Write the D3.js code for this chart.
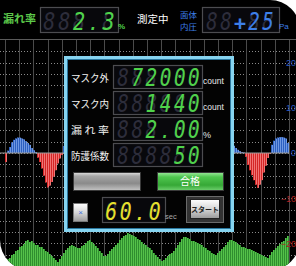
<!DOCTYPE html>
<html lang="ja">
<head>
<meta charset="utf-8">
<title>マスク漏れ率</title>
<script src="https://cdnjs.cloudflare.com/ajax/libs/d3/7.8.5/d3.min.js"></script>
<style>
body { margin: 0; background: #fff; }
svg { display: block; }
.jp { font-family: "Noto Sans CJK JP", sans-serif; }
.seg { font-family: "DejaVu Sans Mono", monospace; font-style: italic; }
.unit { font-family: "Liberation Sans", Arial, sans-serif; }
</style>
</head>
<body>
<svg width="296" height="266"></svg>
<script>
// ---- data ----
var axisTicks = [20, 10, 0, -10, -20];

// leak signal, samples 0..30 (left of the panel)
var sigLeft = [-2.0, 0.5, 1.3, 2.3, 2.9, 3.2, 3.4, 3.4, 3.2, 3.0, 2.6, 2.2, 1.8, 1.1, 0.6, 0.2,
  -1.0, -2.0, -3.4, -5.0, -6.5, -7.6, -7.2, -6.4, -5.2, -3.8, -2.3, -1.2, -0.4, 1.5, 2.8];
// leak signal, samples 113..141 (right of the panel)
var sigRightStart = 113;
var sigRight = [2.2, 1.6, 1.1, 0.7, 0.4, 0.2, 0.1, -0.8, -2.6, -3.8, -4.9, -6.0, -7.0, -7.7,
  -7.0, -6.0, -4.3, -2.8, -1.1, -0.2, 1.8, 2.7, 3.2, 3.4, 3.5, 3.5, 3.4, 3.2, 2.2];

// green flow trace along the bottom, 142 samples
var flow = [4, 7, 8, 11, 12, 15, 16, 19, 20, 22, 25, 26, 24, 25, 23, 21, 21, 19, 19, 17,
  15, 14, 12, 10, 8, 6, 4, 7, 10, 13, 16, 18, 20, 21, 20, 19, 18, 18, 20, 21,
  23, 25, 26, 24, 22, 20, 18, 15, 13, 10, 10, 12, 15, 17, 19, 21, 23, 26, 28, 30,
  31, 33, 32, 31, 30, 29, 27, 26, 24, 22, 21, 19, 18, 16, 13, 11, 9, 7, 5, 6,
  8, 10, 12, 13, 15, 18, 21, 24, 27, 29, 29, 28, 27, 25, 25, 24, 23, 22, 21, 19,
  18, 16, 15, 13, 12, 11, 13, 15, 17, 19, 21, 24, 26, 26, 25, 24, 22, 21, 19, 19,
  18, 17, 17, 16, 15, 14, 13, 12, 11, 10, 9, 8, 11, 14, 16, 18, 20, 22, 24, 25, 28, 30];

var rowLabels = ["マスク外", "マスク内", "漏 れ 率", "防護係数"];
var rowValues = ["72000", "1440", "2.00", "50"];
var rowUnits = ["count", "count", "%", ""];
var headLeak = "2.3";
var headPressure = "+25";
var timerValue = "60.0";

// ---- setup ----
var svg = d3.select("svg");
var defs = svg.append("defs");

var shape = "M0,0 H270 A30,30 0 0 1 300,30 V240 A30,30 0 0 1 270,270 H30 A30,30 0 0 1 0,240 Z";
defs.append("clipPath").attr("id", "body").append("path").attr("d", shape);
svg.append("path").attr("d", shape).attr("fill", "#000");

function grad(id, stops) {
  var g = defs.append("linearGradient").attr("id", id)
    .attr("x1", 0).attr("y1", 0).attr("x2", 0).attr("y2", 1);
  stops.forEach(function(s) {
    g.append("stop").attr("offset", s[0]).attr("stop-color", s[1]);
  });
}
grad("gray", [[0, "#e0e0e0"], [0.2, "#a6a6a6"], [0.6, "#8a8a8a"], [1, "#c4c4c4"]]);
grad("green", [[0, "#9be89b"], [0.25, "#4fc64f"], [0.7, "#36a836"], [1, "#6fd06f"]]);
grad("btn", [[0, "#ffffff"], [0.5, "#d6d6d6"], [1, "#9a9a9a"]]);

var chart = svg.append("g").attr("clip-path", "url(#body)");

// ---- scales ----
var x = d3.scaleBand().domain(d3.range(flow.length)).range([5, 289]);
var xg = d3.scaleLinear().domain([0, 20]).range([5, 289]);
var y = d3.scaleLinear().domain([-25, 25]).range([266, 40]);
var yf = d3.scaleLinear().domain([0, 40]).range([266, 226]);

// grid
chart.append("g").selectAll("line")
  .data(d3.range(-22.5, 25, 2.5))
  .enter().append("line")
  .attr("x1", 0).attr("x2", 296)
  .attr("y1", function(d) { return Math.round(y(d)) + 0.5; })
  .attr("y2", function(d) { return Math.round(y(d)) + 0.5; })
  .attr("stroke", "#8a8a8a").attr("stroke-dasharray", "1,2");
chart.append("line")
  .attr("x1", 0).attr("x2", 296).attr("y1", y(25) - 0.5).attr("y2", y(25) - 0.5)
  .attr("stroke", "#5a5a5a");
chart.append("g").selectAll("line")
  .data(xg.ticks(20))
  .enter().append("line")
  .attr("x1", function(d) { return Math.round(xg(d)) + 0.5; })
  .attr("x2", function(d) { return Math.round(xg(d)) + 0.5; })
  .attr("y1", y(25)).attr("y2", 266)
  .attr("stroke", "#4a4a4a");

// leak signal bars
var sigData = sigLeft.map(function(v, i) { return {i: i, v: v}; })
  .concat(sigRight.map(function(v, k) { return {i: sigRightStart + k, v: v}; }));

var bw = x.bandwidth();
chart.append("g").selectAll("rect")
  .data(sigData)
  .enter().append("rect")
  .attr("x", function(d) { return x(d.i); })
  .attr("width", bw)
  .attr("y", function(d) { return y(Math.max(0, d.v)); })
  .attr("height", function(d) { return Math.abs(y(d.v) - y(0)); })
  .attr("fill", function(d) { return d.v > 0 ? "#6f98e2" : "#f07575"; });
chart.append("g").selectAll("rect")
  .data(sigData)
  .enter().append("rect")
  .attr("x", function(d) { return x(d.i); })
  .attr("width", bw / 2)
  .attr("y", function(d) { return y(Math.max(0, d.v)); })
  .attr("height", function(d) { return Math.abs(y(d.v) - y(0)); })
  .attr("fill", function(d) { return d.v > 0 ? "#2c5fc0" : "#d42626"; });

chart.append("line")
  .attr("x1", 0).attr("x2", 289).attr("y1", y(0)).attr("y2", y(0))
  .attr("stroke", "#9a9a9a");

// flow bars
chart.append("g").selectAll("rect")
  .data(flow)
  .enter().append("rect")
  .attr("x", function(d, i) { return x(i); })
  .attr("width", bw)
  .attr("y", function(d) { return yf(d); })
  .attr("height", function(d) { return yf(0) - yf(d); })
  .attr("fill", "#2f8e2f");
chart.append("g").selectAll("rect")
  .data(flow)
  .enter().append("rect")
  .attr("x", function(d, i) { return x(i); })
  .attr("width", bw / 2)
  .attr("y", function(d) { return yf(d); })
  .attr("height", function(d) { return yf(0) - yf(d); })
  .attr("fill", "#55c24a");

// right axis
var ax = svg.append("g")
  .attr("transform", "translate(296,0)")
  .call(d3.axisLeft(y).tickValues(axisTicks).tickSize(0).tickPadding(0));
ax.select(".domain").remove();
ax.selectAll("text")
  .attr("class", "unit")
  .style("font-size", "9px")
  .attr("fill", function(d) { return d >= 0 ? "#2a5cc4" : "#b02020"; });

// ---- seven segment style readouts ----
function display(g, x0, x1, base, n, value, color, size) {
  var cx = d3.scaleBand().domain(d3.range(n)).range([x0, x1]);
  var chars = value.split("");
  var start = n - chars.length;
  var cells = d3.range(n).map(function(i) {
    var c = i >= start ? chars[i - start] : null;
    return {i: i, c: c};
  });
  var tw = cx.bandwidth() * 0.82;
  g.append("g").selectAll("text")
    .data(cells.filter(function(d) { return d.c === null || /[0-9]/.test(d.c); }))
    .enter().append("text")
    .attr("class", "seg")
    .attr("x", function(d) { return cx(d.i) + (cx.bandwidth() - tw) / 2; })
    .attr("y", base)
    .attr("textLength", tw).attr("lengthAdjust", "spacingAndGlyphs")
    .style("font-size", size + "px")
    .attr("fill", "#2d2d3b")
    .text("8");
  g.append("g").selectAll("text")
    .data(cells.filter(function(d) { return d.c !== null; }))
    .enter().append("text")
    .attr("class", "seg")
    .attr("x", function(d) { return /[0-9]/.test(d.c) ? cx(d.i) + (cx.bandwidth() - tw) / 2 : cx(d.i) + cx.bandwidth() / 2; })
    .attr("text-anchor", function(d) { return /[0-9]/.test(d.c) ? "start" : "middle"; })
    .attr("y", base)
    .attr("textLength", function(d) { return /[0-9]/.test(d.c) ? tw : null; })
    .attr("lengthAdjust", "spacingAndGlyphs")
    .style("font-size", function(d) { return (/[0-9]/.test(d.c) ? size : size * 0.8) + "px"; })
    .style("font-weight", function(d) { return d.c === "+" ? "bold" : "normal"; })
    .attr("fill", color)
    .text(function(d) { return d.c; });
}

function box(x0, y0, w, h) {
  svg.append("rect")
    .attr("x", x0 + 0.5).attr("y", y0 + 0.5).attr("width", w).attr("height", h)
    .attr("fill", "#08080c").attr("stroke", "#4c4c50").attr("stroke-width", 1.2);
}

// header
svg.append("text").attr("class", "jp").attr("x", 3).attr("y", 23)
  .style("font-size", "11px").style("font-weight", "bold").attr("fill", "#5cc84a")
  .text("漏れ率");
box(40, 7, 78, 25);
display(svg, 42, 116, 30, 5, headLeak, "#4fd34a", 25);
svg.append("text").attr("class", "unit").attr("x", 118).attr("y", 29)
  .style("font-size", "8px").style("font-weight", "bold").attr("fill", "#4fd34a").text("%");
svg.append("text").attr("class", "jp").attr("x", 137).attr("y", 23)
  .style("font-size", "10.5px").attr("fill", "#fff").text("測定中");
svg.append("text").attr("class", "jp").attr("x", 180).attr("y", 18)
  .style("font-size", "8.5px").attr("fill", "#3d7fe8").text("面体");
svg.append("text").attr("class", "jp").attr("x", 180).attr("y", 30)
  .style("font-size", "8.5px").attr("fill", "#3d7fe8").text("内圧");
box(202, 7, 77, 25);
display(svg, 205, 275, 30, 5, headPressure, "#3d7fe8", 25);
svg.append("text").attr("class", "unit").attr("x", 279).attr("y", 29)
  .style("font-size", "8px").attr("fill", "#3d7fe8").text("Pa");

// panel
svg.append("rect")
  .attr("x", 65.5).attr("y", 57.5).attr("width", 167).attr("height", 173)
  .attr("fill", "#030303").attr("stroke", "#86d4f0").attr("stroke-width", 3);
svg.append("rect")
  .attr("x", 67.5).attr("y", 59.5).attr("width", 163).attr("height", 169)
  .attr("fill", "none").attr("stroke", "#2a78a0").attr("stroke-width", 1);

var rowY = d3.scaleBand().domain(d3.range(rowLabels.length)).range([64, 168]);
rowLabels.forEach(function(lbl, i) {
  var top = rowY(i);
  svg.append("text").attr("class", "jp").attr("x", 71).attr("y", top + 18)
    .attr("textLength", 38).attr("lengthAdjust", "spacingAndGlyphs")
    .style("font-size", "10px").attr("fill", "#f2f2f2").text(lbl);
  box(113, top + 1, 89, 23);
  display(svg, 116, 201, top + 22, 6, rowValues[i], "#4fd34a", 24);
  if (rowUnits[i]) {
    svg.append("text").attr("class", "unit").attr("x", 203).attr("y", top + (rowUnits[i] === "%" ? 22 : 20))
      .style("font-size", rowUnits[i] === "%" ? "9px" : "8.5px").attr("fill", "#e8e8e8").text(rowUnits[i]);
  }
});

// buttons
svg.append("rect").attr("x", 73.5).attr("y", 172.5).attr("width", 67).attr("height", 18)
  .attr("fill", "url(#gray)").attr("stroke", "#3a3a3a");
svg.append("rect").attr("x", 157.5).attr("y", 172.5).attr("width", 66).attr("height", 18)
  .attr("fill", "url(#green)").attr("stroke", "#3a3a3a");
svg.append("text").attr("class", "jp").attr("x", 190).attr("y", 185)
  .attr("text-anchor", "middle").style("font-size", "10px").attr("fill", "#fff").text("合格");

svg.append("rect").attr("x", 73.5).attr("y", 203.5).attr("width", 14).attr("height", 18)
  .attr("fill", "url(#btn)").attr("stroke", "#777");
svg.append("text").attr("class", "unit").attr("x", 80.5).attr("y", 215)
  .attr("text-anchor", "middle").style("font-size", "8px").attr("fill", "#3d6fe0").text("×");

box(102, 197, 63, 25);
display(svg, 104, 162, 220, 4, timerValue, "#e6e02c", 25);
svg.append("text").attr("class", "unit").attr("x", 165).attr("y", 219)
  .style("font-size", "7.5px").attr("fill", "#a8a8a8").text("sec");

svg.append("rect").attr("x", 186.5).attr("y", 196.5).attr("width", 37).attr("height", 26)
  .attr("fill", "#333").attr("stroke", "#6a6a6a");
svg.append("rect").attr("x", 190.5).attr("y", 199.5).attr("width", 29).attr("height", 19)
  .attr("fill", "url(#btn)").attr("stroke", "#222");
svg.append("text").attr("class", "jp").attr("x", 205).attr("y", 212)
  .attr("text-anchor", "middle").style("font-size", "7px").style("font-weight", "bold")
  .attr("fill", "#222").text("スタート");
</script>
</body>
</html>
